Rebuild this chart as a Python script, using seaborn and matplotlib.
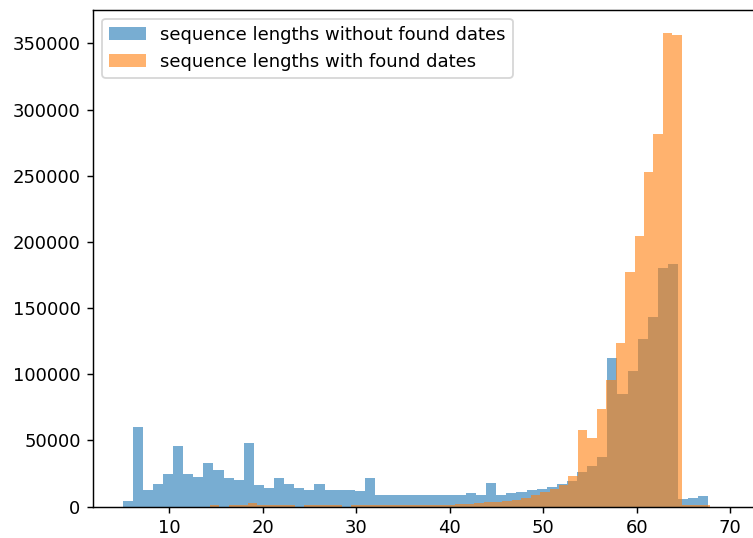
import numpy as np
import pandas as pd
import matplotlib
matplotlib.use("Agg")
import matplotlib.pyplot as plt
import seaborn as sns

# ---- data ----
labels = ["sequence lengths without found dates", "sequence lengths with found dates"]

# blue series: 58 bins spanning this length range
blue_range = (5.04, 67.65)
blue_counts = [
    4300, 60000, 12400, 17400, 24500, 45800, 24500, 22400, 32800, 27500,
    21400, 20400, 47900, 16100, 14400, 21400, 17400, 14400, 12400, 17400,
    12400, 12400, 12400, 11500, 21400, 9200, 9200, 9200, 9200, 9200,
    9200, 9200, 9200, 9200, 10100, 9200, 17600, 9200, 10100, 11100,
    12600, 13600, 15100, 16900, 19400, 26000, 31000, 37800, 112000, 84900,
    102700, 126400, 143500, 180000, 183100, 5800, 6800, 8100,
]

# orange series: 53 bins spanning this length range
orange_range = (14.36, 67.84)
orange_counts = [
    1200, 0, 1200, 1200, 2500, 1200, 1200, 1200, 1200, 0,
    1200, 1200, 1200, 1200, 0, 1200, 1200, 1200, 1200, 1200,
    1200, 1200, 1200, 1200, 1200, 1200, 1800, 1800, 2500, 3300,
    3800, 4300, 5000, 6800, 8800, 11300, 13100, 16100, 23400, 58200,
    52100, 73500, 95700, 123900, 177000, 204500, 253000, 281400, 357600, 355900,
    1500, 1500, 1500,
]

colors = ["#1f77b4", "#ff7f0e"]
x_limits = (1.9, 73.0)

blue_edges = np.linspace(blue_range[0], blue_range[1], len(blue_counts) + 1).tolist()
orange_edges = np.linspace(orange_range[0], orange_range[1], len(orange_counts) + 1).tolist()

df_blue = pd.DataFrame({"length": [(a + b) / 2 for a, b in zip(blue_edges[:-1], blue_edges[1:])],
                        "count": blue_counts})
df_orange = pd.DataFrame({"length": [(a + b) / 2 for a, b in zip(orange_edges[:-1], orange_edges[1:])],
                          "count": orange_counts})

DPI = 130
fig = plt.figure(figsize=(753 / DPI, 538 / DPI), dpi=DPI)
# the reference is cropped on the right: the right spine lies beyond the image
ax = fig.add_axes([0.1238, 0.0582, 0.8833, 0.924])

sns.histplot(data=df_blue, x="length", weights="count", bins=blue_edges,
             color=colors[0], alpha=0.6, edgecolor="none", linewidth=0,
             label=labels[0], ax=ax)
sns.histplot(data=df_orange, x="length", weights="count", bins=orange_edges,
             color=colors[1], alpha=0.6, edgecolor="none", linewidth=0,
             label=labels[1], ax=ax)

ax.set_xlim(*x_limits)
ax.set_xlabel("")
ax.set_ylabel("")
ax.legend(loc="upper left")

fig.savefig("out.png", dpi=DPI)
